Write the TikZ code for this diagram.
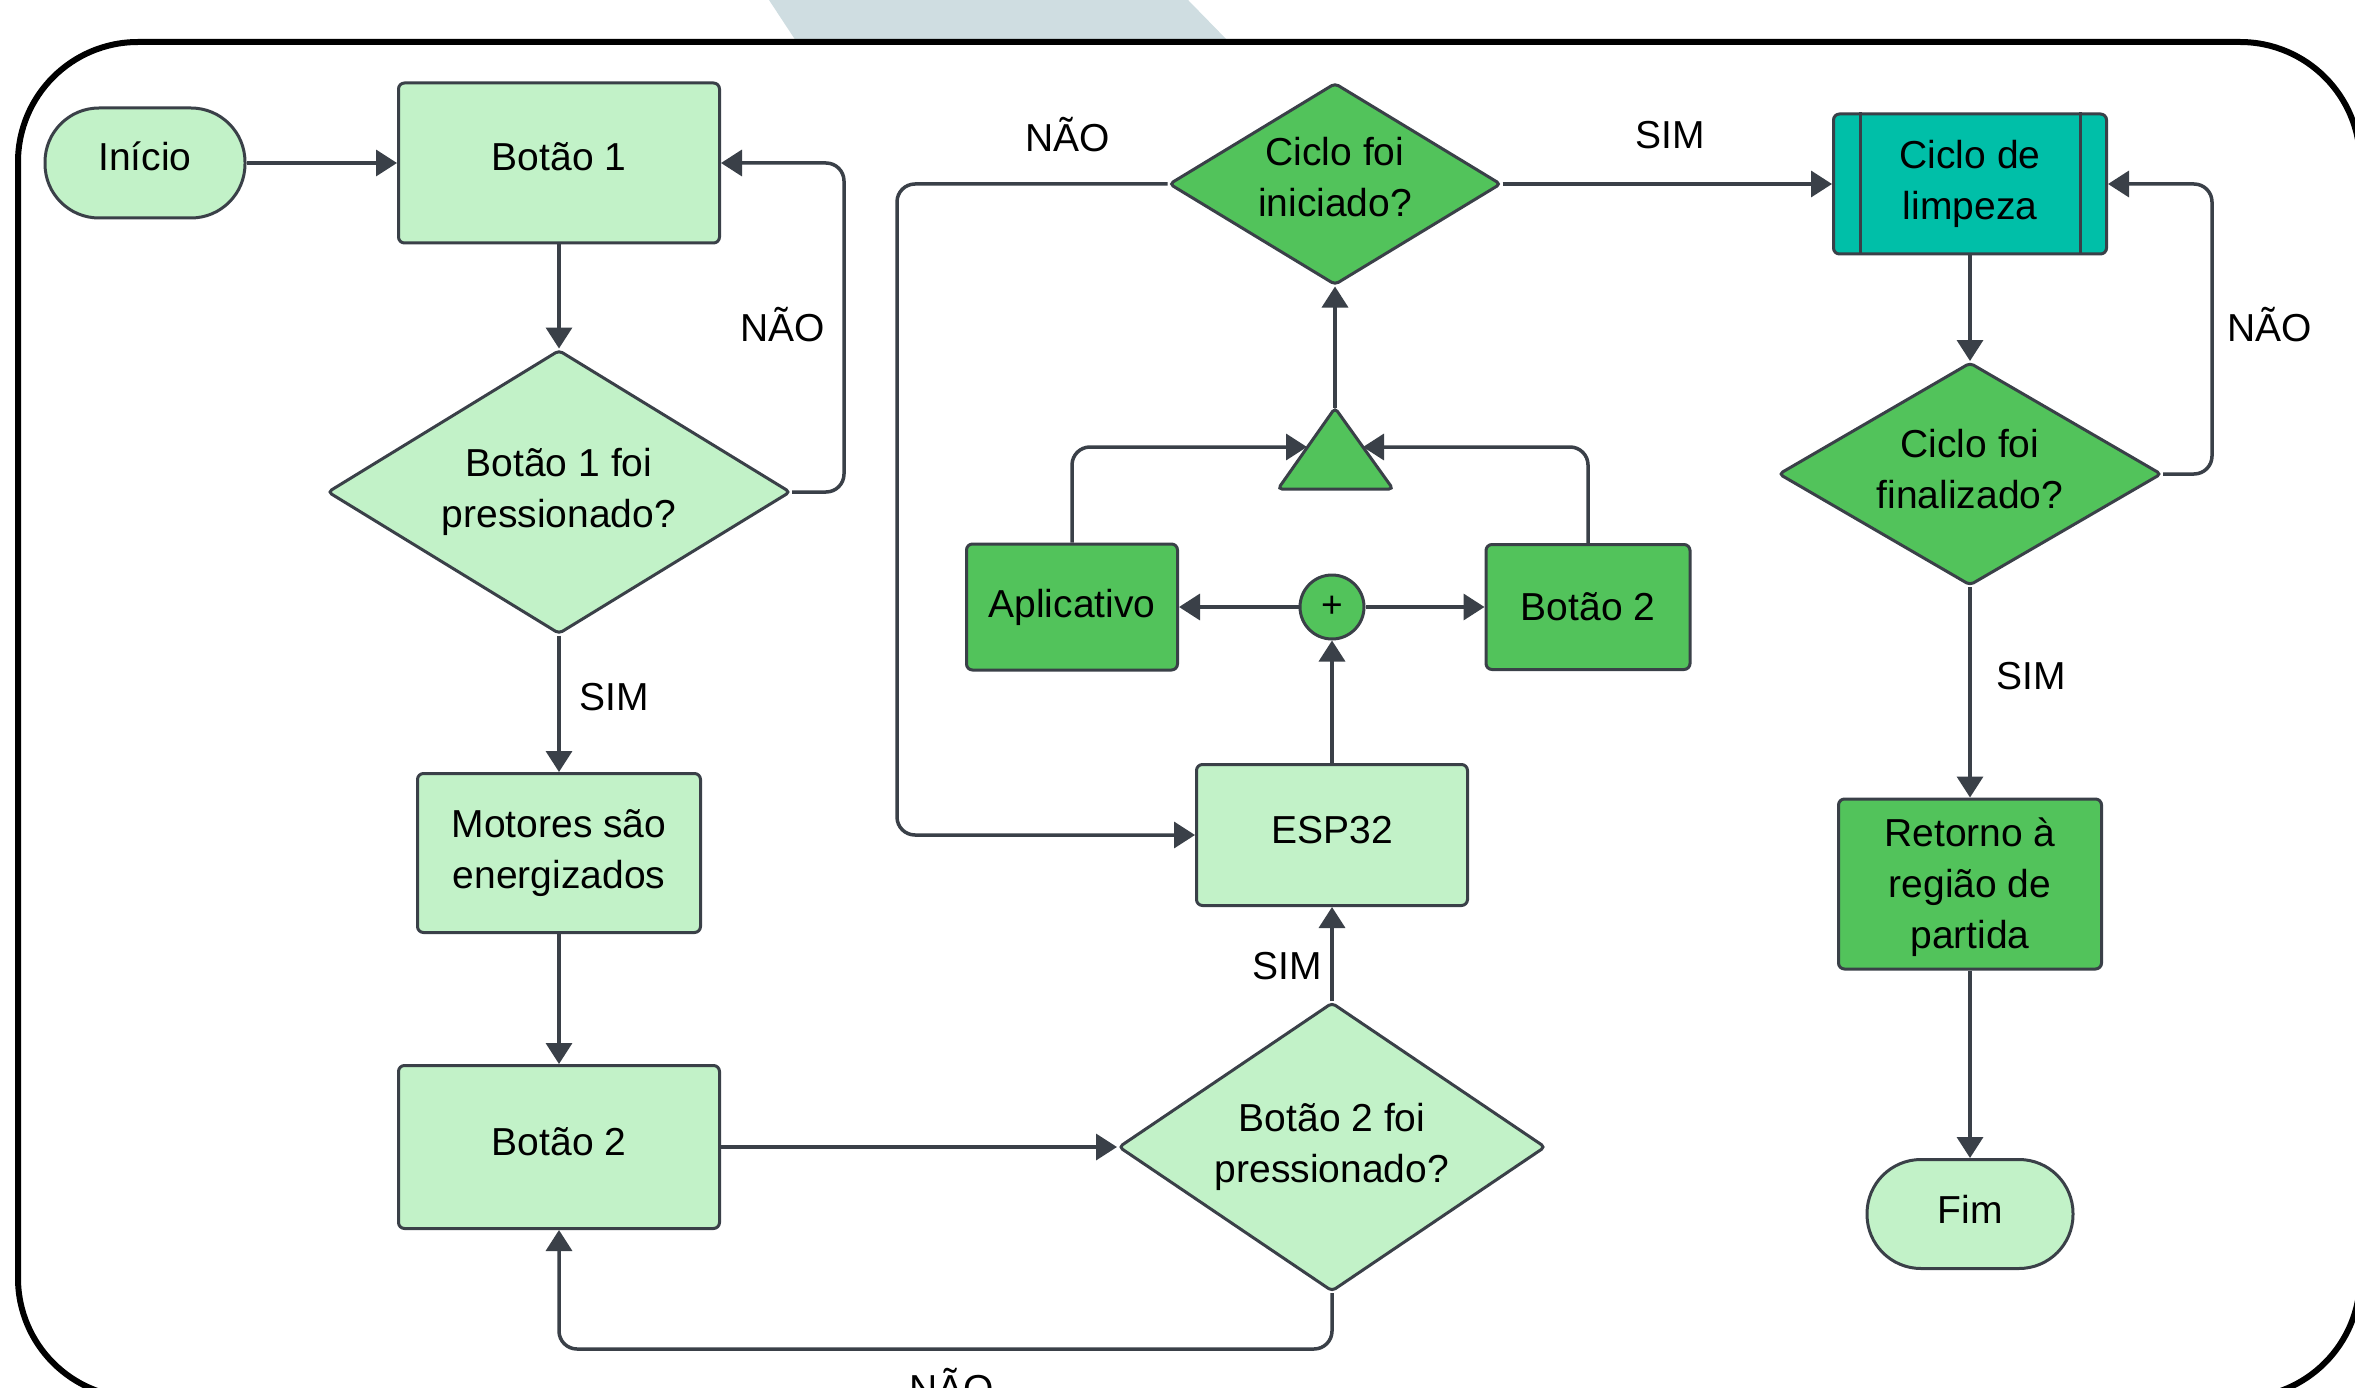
\documentclass[tikz,border=0pt]{standalone}
\usepackage{fontspec}
\setmainfont{Liberation Sans}
\usetikzlibrary{shapes.geometric,arrows.meta}
\definecolor{lightg}{HTML}{C2F2C8}
\definecolor{darkg}{HTML}{52C35B}
\definecolor{tealc}{HTML}{00BFA8}
\definecolor{edgec}{HTML}{3A4048}
\definecolor{bandc}{HTML}{CFDDE1}
\newcommand\bigf{\fontsize{39}{51}\selectfont}
\newcommand\lift[1]{\rule[-#1]{0pt}{#1}}
\begin{document}
\begin{tikzpicture}[x=1pt,y=-1pt,
  base/.style={draw=edgec, line width=3pt, align=center, inner sep=0pt, font=\bigf, text=black},
  boxl/.style={base, rounded corners=6pt, fill=lightg},
  boxd/.style={base, rounded corners=6pt, fill=darkg},
  pill/.style={base, fill=lightg, rounded corners=54pt},
  dec/.style={base, diamond, rounded corners=4pt},
  conn/.style={draw=edgec, line width=3.5pt, -{Triangle[length=21pt,width=26pt]}, rounded corners=18pt},
  lbl/.style={font=\bigf, text=black, inner sep=0pt}
]
\useasboundingbox (0,0) rectangle (2355,1388);
\fill[white] (0,0) rectangle (2355,1388);
% grey band at the top
\fill[bandc] (769,0) -- (1188,0) -- (1228,41) -- (796,41) -- cycle;
% outer frame
\draw[line width=6pt, rounded corners=120pt] (18,42) rectangle (2360,1398);

% left column
\node[pill, minimum width=200pt, minimum height=110pt] (inicio) at (145,163) {Início\lift{13pt}};
\node[boxl, minimum width=321pt, minimum height=160pt] (b1) at (559,163) {Botão 1\lift{13pt}};
\node[dec, fill=lightg, aspect=1.63, minimum width=463pt, minimum height=284pt] (d1) at (559,492) {Botão 1 foi\\pressionado?};
\node[boxl, minimum width=283pt, minimum height=159pt] (mot) at (559,853) {Motores são\\energizados};
\node[boxl, minimum width=321pt, minimum height=163pt] (b2l) at (559,1147) {Botão 2\lift{10pt}};
\node[dec, fill=lightg, aspect=1.48, minimum width=427pt, minimum height=289pt] (d2) at (1332,1147) {Botão 2 foi\\pressionado?};

% middle column
\node[boxl, minimum width=271pt, minimum height=141pt] (esp) at (1332,835) {ESP32\lift{10pt}};
\node[base, circle, fill=darkg, minimum size=64pt, font=\fontsize{37}{37}\selectfont] (plus) at (1332,607) {+};
\node[boxd, minimum width=211pt, minimum height=126pt] (app) at (1072,607) {Aplicativo};
\node[boxd, minimum width=204pt, minimum height=125pt] (b2m) at (1588,607) {Botão 2};
\node[dec, fill=darkg, aspect=1.64, minimum width=332pt, minimum height=202pt] (cini) at (1335,184) {Ciclo foi\\iniciado?\lift{14pt}};
\draw[fill=darkg, draw=edgec, line width=3pt, rounded corners=4pt] (1278,489) -- (1335,408) -- (1393,489) -- cycle;
\coordinate (triA) at (1335,408);
\coordinate (tL) at (1307,447);
\coordinate (tR) at (1363,447);

% right column
\node[base, fill=tealc, rounded corners=6pt, minimum width=273pt, minimum height=140pt] (clim) at (1970,184) {Ciclo de\\limpeza};
\draw[edgec, line width=3pt] ([xshift=28pt]clim.north west) -- ([xshift=28pt]clim.south west);
\draw[edgec, line width=3pt] ([xshift=-28pt]clim.north east) -- ([xshift=-28pt]clim.south east);
\node[dec, fill=darkg, aspect=1.72, minimum width=383pt, minimum height=223pt] (cfin) at (1970,474) {Ciclo foi\\finalizado?\lift{10pt}};
\node[boxd, minimum width=263pt, minimum height=170pt] (ret) at (1970,884) {\rule{0pt}{36pt}Retorno à\\região de\\partida};
\node[pill, minimum width=206pt, minimum height=109pt] (fim) at (1970,1214) {Fim\lift{10pt}};

% connectors
\draw[conn] (inicio.east) -- (b1.west);
\draw[conn] (b1.south) -- (d1.north);
\draw[conn] (d1.east) -| (844,163) -- (b1.east);
\draw[conn] (d1.south) -- (mot.north);
\draw[conn] (mot.south) -- (b2l.north);
\draw[conn] (b2l.east) -- (d2.west);
\draw[conn] (d2.south) -- (1332,1349) -| (b2l.south);
\draw[conn] (d2.north) -- (esp.south);
\draw[conn] (esp.north) -- (plus.south);
\draw[conn] (plus.west) -- (app.east);
\draw[conn] (plus.east) -- (b2m.west);
\draw[conn] (app.north) |- (tL);
\draw[conn] (b2m.north) |- (tR);
\draw[conn] (triA) -- (cini.south);
\draw[conn] (cini.west) -| (897,835) -- (esp.west);
\draw[conn] (cini.east) -- (clim.west);
\draw[conn] (clim.south) -- (cfin.north);
\draw[conn] (cfin.east) -| (2212,184) -- (clim.east);
\draw[conn] (cfin.south) -- (ret.north);
\draw[conn] (ret.south) -- (fim.north);

% labels
\node[lbl] (l1) at (783,325) {NÃO};
\node[lbl] (l2) at (614,697) {SIM};
\node[lbl] (l3) at (952,1386) {NÃO};
\node[lbl] (l4) at (1287,966) {SIM};
\node[lbl] (l5) at (1068,135) {NÃO};
\node[lbl] (l6) at (1670,135) {SIM};
\node[lbl] (l7) at (2270,325) {NÃO};
\node[lbl] (l8) at (2031,676) {SIM};
\end{tikzpicture}
\end{document}
